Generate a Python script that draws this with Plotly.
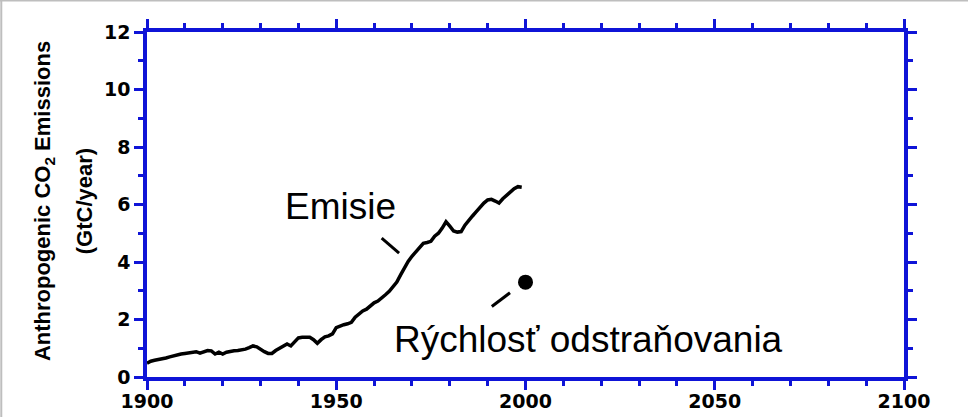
import plotly.graph_objects as go

years = list(range(1900, 2000))
emissions = [
    0.48, 0.55, 0.58, 0.60, 0.63, 0.66, 0.70, 0.74, 0.76, 0.80,
    0.82, 0.84, 0.86, 0.88, 0.83, 0.88, 0.92, 0.91, 0.80, 0.86,
    0.80, 0.86, 0.90, 0.91, 0.92, 0.94, 0.97, 1.02, 1.08, 1.05,
    0.96, 0.88, 0.82, 0.82, 0.92, 1.00, 1.10, 1.15, 1.08, 1.22,
    1.36, 1.38, 1.38, 1.38, 1.30, 1.17, 1.30, 1.40, 1.43, 1.50,
    1.72, 1.78, 1.82, 1.85, 1.90, 2.08, 2.20, 2.30, 2.36, 2.48,
    2.58, 2.64, 2.74, 2.86, 2.98, 3.12, 3.30, 3.55, 3.80, 4.02,
    4.20, 4.36, 4.50, 4.65, 4.68, 4.72, 4.90, 5.00, 5.18, 5.40,
    5.25, 5.08, 5.04, 5.06, 5.28, 5.42, 5.60, 5.75, 5.92, 6.05,
    6.16, 6.18, 6.12, 6.05, 6.20, 6.33, 6.45, 6.55, 6.62, 6.60,
]

removal_year = [2000]
removal_rate = [3.3]

x_ticks = [1900, 1950, 2000, 2050, 2100]
y_ticks = [0, 2, 4, 6, 8, 10, 12]

label_emis = "Emisie"
label_removal = "Rýchlosť odstraňovania"
emis_pos = (1935.9, 5.93)
removal_pos = (1964.6, 1.31)
leader_emis = [(1962.0, 4.83), (1966.6, 4.31)]
leader_removal = [(1991.1, 2.45), (1995.9, 2.93)]

BLUE = "rgb(15,20,215)"
xtickfont = dict(family="DejaVu Sans", size=19, color="black", weight="bold")
ytickfont = dict(family="DejaVu Sans", size=19, color="black", weight="bold")

fig = go.Figure()
fig.add_trace(go.Scatter(x=years, y=emissions, mode="lines",
                         line=dict(color="black", width=3.5), showlegend=False))
fig.add_trace(go.Scatter(x=removal_year, y=removal_rate, mode="markers",
                         marker=dict(color="black", size=15), showlegend=False))

for (x0, y0), (x1, y1) in [leader_emis, leader_removal]:
    fig.add_shape(type="line", x0=x0, y0=y0, x1=x1, y1=y1, xref="x", yref="y",
                  line=dict(color="black", width=3))

fig.add_annotation(x=emis_pos[0], y=emis_pos[1], xref="x", yref="y", text=label_emis,
                   showarrow=False, xanchor="left", yanchor="middle",
                   font=dict(family="Liberation Sans", size=37, color="black"))
fig.add_annotation(x=removal_pos[0], y=removal_pos[1], xref="x", yref="y", text=label_removal,
                   showarrow=False, xanchor="left", yanchor="middle",
                   font=dict(family="Liberation Sans", size=37, color="black"))

# y axis title (two lines)
fig.add_annotation(x=-0.136, y=0.51, xref="paper", yref="paper",
                   text="<b>Anthropogenic CO<sub>2</sub> Emissions</b>",
                   textangle=-90, showarrow=False, xanchor="center", yanchor="middle",
                   font=dict(family="Liberation Sans", size=22, color="black"))
fig.add_annotation(x=-0.083, y=0.51, xref="paper", yref="paper",
                   text="<b>(GtC/year)</b>",
                   textangle=-90, showarrow=False, xanchor="center", yanchor="middle",
                   font=dict(family="Liberation Sans", size=22, color="black"))

# thin gray frame at top/left edge of image
fig.add_shape(type="line", xref="paper", yref="paper", x0=-0.2, x1=1.1, y0=1.0915, y1=1.0915,
              line=dict(color="rgb(190,190,190)", width=2))
fig.add_shape(type="line", xref="paper", yref="paper", x0=-0.1925, x1=-0.1925, y0=-0.2, y1=1.1,
              line=dict(color="rgb(190,190,190)", width=2))

axis_common = dict(showline=True, linecolor=BLUE, linewidth=3.5, mirror="ticks",
                   ticks="outside", tickcolor=BLUE, tickwidth=3, ticklen=9,
                   showgrid=False, zeroline=False, automargin=False)

fig.update_xaxes(range=[1900, 2100], tickvals=x_ticks, ticktext=[str(v) for v in x_ticks],
                 tickfont=xtickfont, ticklabelstandoff=-5,
                 minor=dict(dtick=10, tick0=1900, ticks="outside", ticklen=5,
                            tickwidth=3, tickcolor=BLUE, showgrid=False),
                 **axis_common)
fig.update_yaxes(range=[0, 12], tickvals=y_ticks, ticktext=[str(v) for v in y_ticks],
                 tickfont=ytickfont,
                 minor=dict(dtick=1, tick0=0, ticks="outside", ticklen=5,
                            tickwidth=3, tickcolor=BLUE, showgrid=False),
                 **axis_common)

fig.update_layout(width=968, height=417, margin=dict(l=147, r=64, t=32, b=40),
                  paper_bgcolor="white", plot_bgcolor="white",
                  font=dict(family="DejaVu Sans", color="black"))

fig.write_html("out.html", config={"displayModeBar": False},
               post_script="document.body.style.margin='0';")
